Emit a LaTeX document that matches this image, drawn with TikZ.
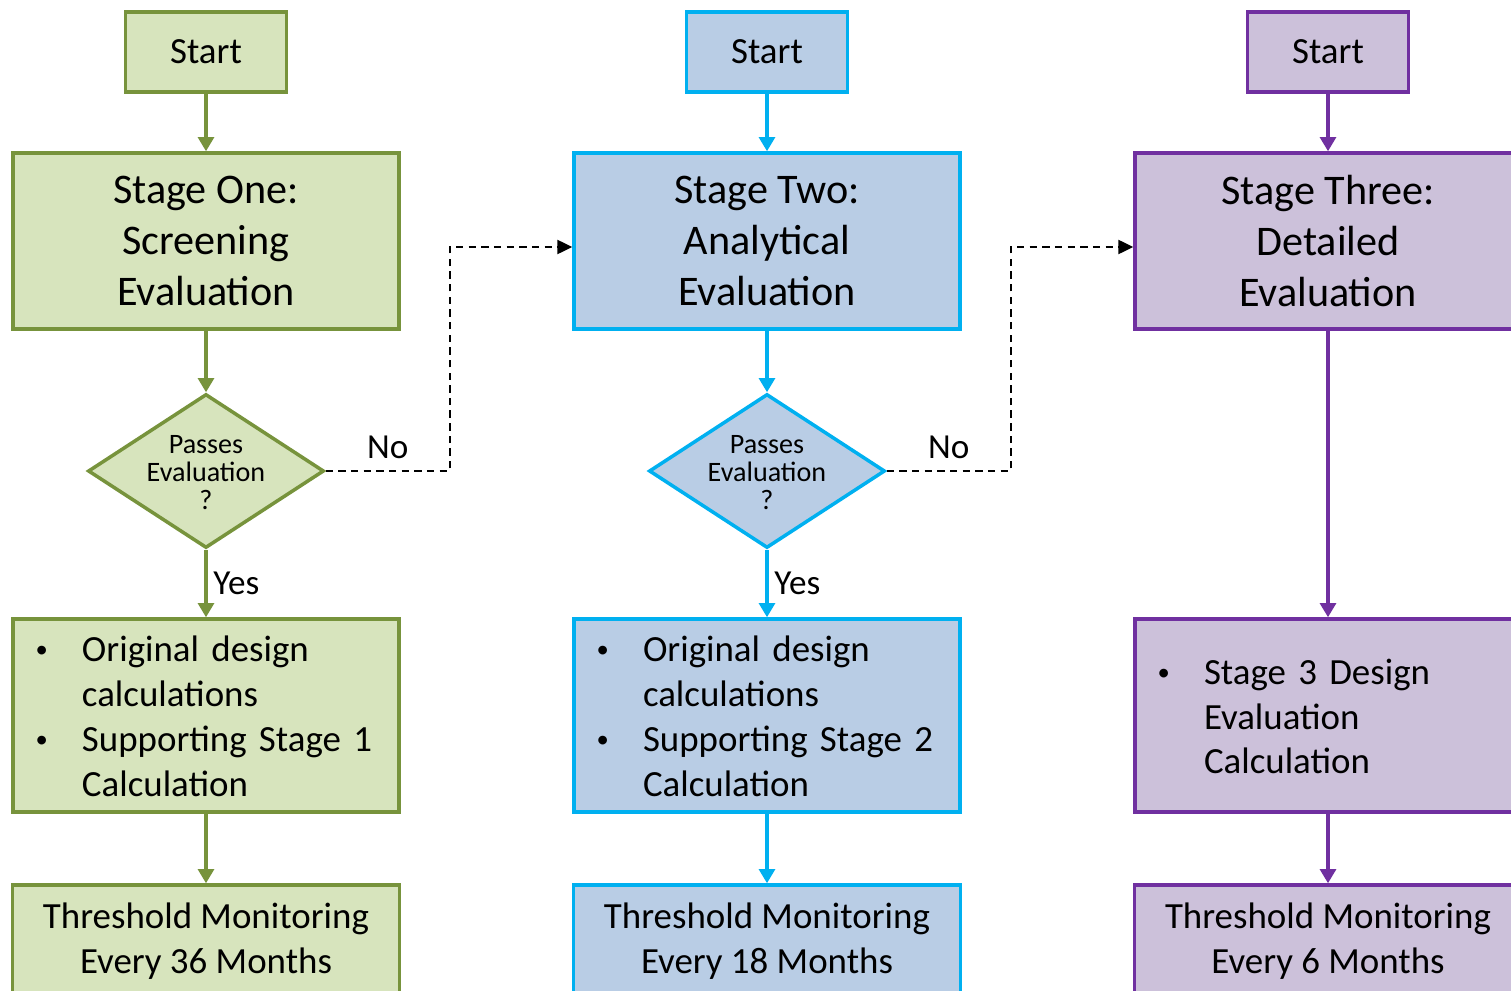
\documentclass[tikz,border=0pt]{standalone}
\usepackage{fontspec}
\setmainfont{Carlito}
\usepackage{tikz}
\usetikzlibrary{shapes.geometric,arrows.meta,positioning}
\usepackage{xcolor}

\definecolor{greenfill}{HTML}{D7E4BD}
\definecolor{greenline}{HTML}{77933C}
\definecolor{bluefill}{HTML}{B9CDE5}
\definecolor{blueline}{HTML}{00B0F0}
\definecolor{purplefill}{HTML}{CCC1DA}
\definecolor{purpleline}{HTML}{7030A0}

% small bullet for the calculation boxes
\newcommand{\calcdot}{\raisebox{2.3pt}{\fontsize{14}{14}\selectfont\textbullet}}
% move text a bit down without changing its box
\newcommand{\lowered}[1]{\raisebox{-2.6pt}[\height][\depth]{#1}}

\begin{document}
\begin{tikzpicture}[
    box/.style={rectangle, draw, line width=2pt, align=center},
    startbox/.style={box, minimum width=3.22cm, minimum height=1.6cm, font=\fontsize{21}{25.5}\selectfont},
    stagebox/.style={box, minimum width=7.72cm, minimum height=3.52cm, font=\fontsize{24}{29}\selectfont},
    calcbox/.style={box, minimum width=7.72cm, minimum height=3.86cm, inner xsep=0.45cm,
        text width=6.82cm, align=left, font=\fontsize{21}{25.5}\selectfont},
    monbox/.style={box, minimum width=7.74cm, minimum height=2.26cm, font=\fontsize{21}{25.5}\selectfont},
    decision/.style={diamond, draw, line width=2pt, aspect=1.53, inner sep=-2pt, align=center,
        minimum width=4.72cm, minimum height=3.08cm, font=\fontsize{16}{16}\selectfont},
    one/.style={fill=greenfill, draw=greenline},
    two/.style={fill=bluefill, draw=blueline},
    three/.style={fill=purplefill, draw=purpleline},
    flow/.style={line width=1.8pt, -{Triangle[length=8pt,width=9pt]}},
    nolink/.style={line width=1.2pt, dash pattern=on 4.2pt off 3pt, -{Triangle[length=8.5pt,width=8pt]}},
    answer/.style={font=\fontsize{20}{24}\selectfont}
]
    % Page
    \useasboundingbox (0,0) rectangle (30.22,-19.8);
    \clip (0,0) rectangle (30.22,-19.8);

    % Stage one
    \node[startbox, one] (s1start) at (4.12,-1.04) {Start};
    \node[stagebox, one] (s1stage) at (4.12,-4.82) {Stage One:\\Screening\\Evaluation};
    \node[decision, one] (s1dec) at (4.12,-9.42) {\lowered{\begin{tabular}{@{}c@{}}Passes\\Evaluation\\?\end{tabular}}};
    \node[calcbox, one] (s1calc) at (4.12,-14.31) {\lowered{%
        \begin{tabular}{@{}p{0.93cm}@{}p{5.89cm}@{}}
            \calcdot & Original design\newline calculations\\
            \calcdot & Supporting Stage~1\newline Calculation
        \end{tabular}}};
    \node[monbox, one] (s1mon) at (4.12,-18.83) {Threshold Monitoring\\Every 36 Months};

    % Stage two
    \node[startbox, two] (s2start) at (15.34,-1.04) {Start};
    \node[stagebox, two] (s2stage) at (15.34,-4.82) {Stage Two:\\Analytical\\Evaluation};
    \node[decision, two] (s2dec) at (15.34,-9.42) {\lowered{\begin{tabular}{@{}c@{}}Passes\\Evaluation\\?\end{tabular}}};
    \node[calcbox, two] (s2calc) at (15.34,-14.31) {\lowered{%
        \begin{tabular}{@{}p{0.93cm}@{}p{5.89cm}@{}}
            \calcdot & Original design\newline calculations\\
            \calcdot & Supporting Stage~2\newline Calculation
        \end{tabular}}};
    \node[monbox, two] (s2mon) at (15.34,-18.83) {Threshold Monitoring\\Every 18 Months};

    % Stage three
    \node[startbox, three] (s3start) at (26.56,-1.04) {Start};
    \node[stagebox, three] (s3stage) at (26.56,-4.82) {Stage Three:\\Detailed\\Evaluation};
    \node[calcbox, three] (s3calc) at (26.56,-14.31) {\lowered{%
        \begin{tabular}{@{}p{0.93cm}@{}p{5.89cm}@{}}
            \calcdot & Stage 3 Design\newline Evaluation\newline Calculation
        \end{tabular}}};
    \node[monbox, three] (s3mon) at (26.56,-18.83) {Threshold Monitoring\\Every 6 Months};

    % Arrows
    \draw[flow, greenline] (s1start) -- (s1stage);
    \draw[flow, greenline] (s1stage) -- (s1dec);
    \draw[flow, greenline] (s1dec) -- node[right, answer, black] {Yes} (s1calc);
    \draw[flow, greenline] (s1calc) -- (s1mon);

    \draw[flow, blueline] (s2start) -- (s2stage);
    \draw[flow, blueline] (s2stage) -- (s2dec);
    \draw[flow, blueline] (s2dec) -- node[right, answer, black] {Yes} (s2calc);
    \draw[flow, blueline] (s2calc) -- (s2mon);

    \draw[flow, purpleline] (s3start) -- (s3stage);
    \draw[flow, purpleline] (s3stage) -- (s3calc);
    \draw[flow, purpleline] (s3calc) -- (s3mon);

    % Failed evaluations go to the next stage
    \draw[nolink] (s1dec.east) -- node[above=3pt, answer] {No} ++(2.48,0) |- ([yshift=-0.12cm]s2stage.west);
    \draw[nolink] (s2dec.east) -- node[above=3pt, answer] {No} ++(2.48,0) |- ([yshift=-0.12cm]s3stage.west);
\end{tikzpicture}
\end{document}
